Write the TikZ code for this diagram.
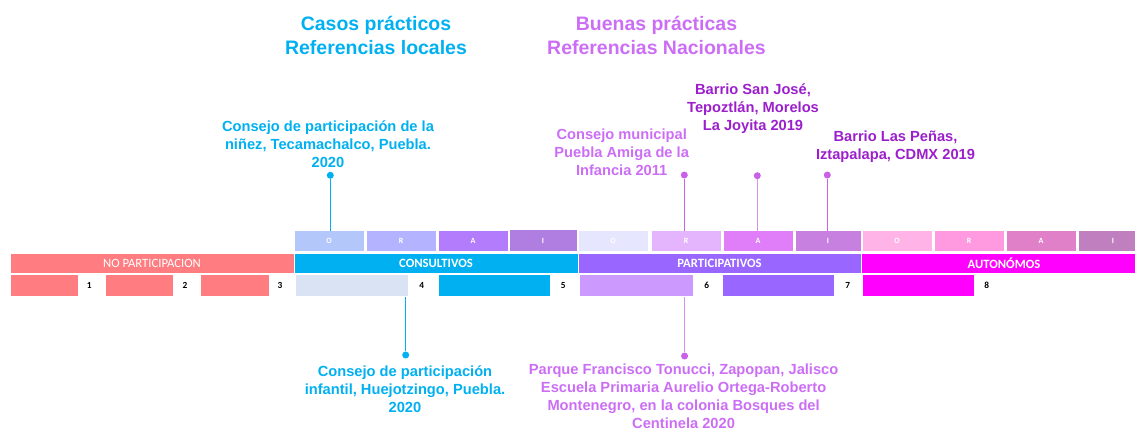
\documentclass[tikz,border=0pt]{standalone}
\usepackage{fontspec}
\setmainfont{Liberation Sans}
\newfontfamily\calib{Carlito}
\definecolor{salmon}{HTML}{FF7C80}
\definecolor{cyanB}{HTML}{00B0F0}
\definecolor{violetB}{HTML}{9966FF}
\definecolor{magB}{HTML}{FF00FF}
\definecolor{cO}{HTML}{B4C7FA}
\definecolor{cR}{HTML}{B3B3FF}
\definecolor{cA}{HTML}{B37CFC}
\definecolor{cI}{HTML}{B07EE0}
\definecolor{pO}{HTML}{E6E6FF}
\definecolor{pR}{HTML}{E4B4FC}
\definecolor{pA}{HTML}{E07EFA}
\definecolor{pI}{HTML}{C880E0}
\definecolor{aO}{HTML}{FFB3E6}
\definecolor{aR}{HTML}{FF99E0}
\definecolor{aA}{HTML}{E080C8}
\definecolor{aI}{HTML}{C080C0}
\definecolor{lowfour}{HTML}{DAE3F3}
\definecolor{lowsix}{HTML}{CC99FF}
\definecolor{lilac}{HTML}{CC6EF5}
\definecolor{darkP}{HTML}{9B1FCB}
\definecolor{dotP}{HTML}{C860E8}
\definecolor{lineP}{HTML}{D890F0}
\begin{document}
\begin{tikzpicture}[x=0.75pt,y=-0.75pt,
  cell/.style={draw=white, line width=0.6pt, inner sep=0pt, outer sep=0pt, anchor=center},
  bar/.style={cell, minimum height=20*0.75pt, text=white, font=\calib\fontsize{9.5}{10}\selectfont\bfseries},
  orai/.style={cell, minimum height=21*0.75pt, text=white, font=\calib\fontsize{6}{7}\selectfont\bfseries},
  low/.style={cell, minimum height=22*0.75pt},
  num/.style={inner sep=0pt, font=\calib\fontsize{7}{8}\selectfont\bfseries},
  dot/.style={circle, inner sep=0pt, minimum size=7*0.75pt},
  lbl/.style={align=center, font=\bfseries\fontsize{11}{13.5}\selectfont, inner sep=0pt},
  ttl/.style={align=center, font=\bfseries\fontsize{14.6}{18}\selectfont, inner sep=0pt}]
\useasboundingbox (0,0) rectangle (1135,430);
\clip (0,0) rectangle (1135,430);

% titles
\node[ttl, text=cyanB] (t1) at (376,35) {Casos prácticos\\Referencias locales};
\node[ttl, text=lilac] (t2) at (656.5,35) {Buenas prácticas\\Referencias Nacionales};

% main bars
\node[bar, fill=salmon, minimum width=284*0.75pt, font=\calib\fontsize{9.5}{10}\selectfont] (np) at (152,263) {NO PARTICIPACION};
\node[bar, fill=cyanB, minimum width=284*0.75pt] (cons) at (436,263) {CONSULTIVOS};
\node[bar, fill=violetB, minimum width=283*0.75pt] (part) at (719.5,263) {PARTICIPATIVOS};
\node[bar, fill=magB, minimum width=286*0.75pt] (auto) at (1004,263) {AUTONÓMOS};

% ORAI row
\node[orai, fill=cO, minimum width=70*0.75pt] (cOb) at (329,241.3) {O};
\node[orai, fill=cR, minimum width=70*0.75pt] (cRb) at (401,241.3) {R};
\node[orai, fill=cA, minimum width=70*0.75pt] (cAb) at (473,241.3) {A};
\node[orai, fill=cI, minimum width=68*0.75pt, minimum height=22.5*0.75pt] (cIb) at (543,240.6) {I};
\node[orai, fill=pO, minimum width=70*0.75pt] (pOb) at (613,241.3) {O};
\node[orai, fill=pR, minimum width=70*0.75pt] (pRb) at (686,241.3) {R};
\node[orai, fill=pA, minimum width=70*0.75pt] (pAb) at (758,241.3) {A};
\node[orai, fill=pI, minimum width=66*0.75pt] (pIb) at (828,241.3) {I};
\node[orai, fill=aO, minimum width=70*0.75pt] (aOb) at (897,241.3) {O};
\node[orai, fill=aR, minimum width=70*0.75pt] (aRb) at (969,241.3) {R};
\node[orai, fill=aA, minimum width=70*0.75pt] (aAb) at (1041,241.3) {A};
\node[orai, fill=aI, minimum width=70*0.75pt] (aIb) at (1113,241.3) {I};

% lower row
\node[low, fill=salmon, minimum width=68*0.75pt] (b1) at (44,285.5) {};
\node[low, fill=salmon, minimum width=68*0.75pt] (b2) at (139,285.5) {};
\node[low, fill=salmon, minimum width=69*0.75pt] (b3) at (234.5,285.5) {};
\node[low, fill=lowfour, minimum width=113*0.75pt] (b4) at (351.5,285.5) {};
\node[low, fill=cyanB, minimum width=112*0.75pt] (b5) at (494,285.5) {};
\node[low, fill=lowsix, minimum width=114*0.75pt] (b6) at (636,285.5) {};
\node[low, fill=violetB, minimum width=112*0.75pt] (b7) at (778,285.5) {};
\node[low, fill=magB, minimum width=112*0.75pt] (b8) at (918,285.5) {};
\node[num] (n1) at (89.3,285) {1};
\node[num] (n2) at (185,285) {2};
\node[num] (n3) at (280,285) {3};
\node[num] (n4) at (421.7,285) {4};
\node[num] (n5) at (563.3,285) {5};
\node[num] (n6) at (706.7,285) {6};
\node[num] (n7) at (847.7,285) {7};
\node[num] (n8) at (986.7,285) {8};

% top annotations
\node[lbl, text=cyanB] (l1) at (328,144.5) {Consejo de participación de la\\niñez, Tecamachalco, Puebla.\\2020};
\node[lbl, text=lilac] (l2) at (621.7,152.5) {Consejo municipal\\Puebla Amiga de la\\Infancia 2011};
\node[lbl, text=darkP] (l3) at (753,108.7) {Barrio San José,\\Tepoztlán, Morelos\\La Joyita 2019};
\node[lbl, text=darkP] (l4) at (895.5,147) {Barrio Las Peñas,\\Iztapalapa, CDMX 2019};

\node[dot, fill=cyanB] (d1) at (330.3,175.3) {};
\node[dot, fill=dotP] (d2) at (684.3,175) {};
\node[dot, fill=dotP] (d3) at (757.3,175.7) {};
\node[dot, fill=dotP] (d4) at (827.3,175) {};
\draw[cyanB, line width=0.9pt] (d1) -- (d1 |- cOb.north);
\draw[dotP, line width=0.9pt] (d2) -- (d2 |- pRb.north);
\draw[lineP, line width=0.9pt] (d3) -- (d3 |- pAb.north);
\draw[dotP, line width=0.9pt] (d4) -- (d4 |- pIb.north);

% bottom annotations
\node[dot, fill=cyanB] (d5) at (405.7,355) {};
\node[dot, fill=dotP] (d6) at (684.6,356) {};
\draw[cyanB, line width=0.9pt] (d5) -- (d5 |- b4.south);
\draw[lineP, line width=0.9pt] (d6) -- (d6 |- b6.south);
\node[lbl, text=cyanB] (l5) at (405,389.5) {Consejo de participación\\infantil, Huejotzingo, Puebla.\\2020};
\node[lbl, text=lilac] (l6) at (683.6,396) {Parque Francisco Tonucci, Zapopan, Jalisco\\Escuela Primaria Aurelio Ortega-Roberto\\Montenegro, en la colonia Bosques del\\Centinela 2020};
\end{tikzpicture}
\end{document}
